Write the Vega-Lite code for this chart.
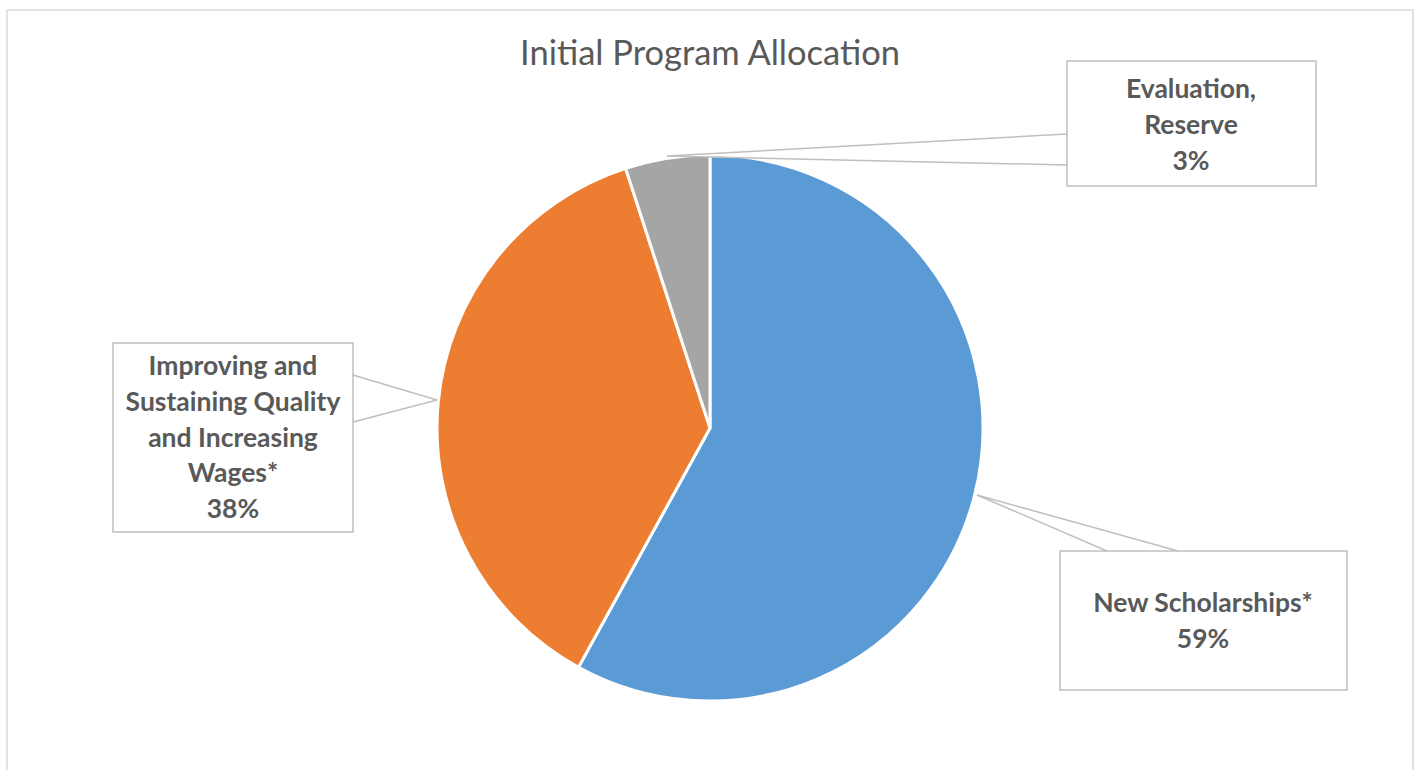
{
  "$schema": "https://vega.github.io/schema/vega-lite/v6.json",
  "autosize": {"type": "fit", "contains": "padding"},
  "width": 1418,
  "height": 770,
  "padding": 0,
  "background": "white",
  "config": {"view": {"stroke": null}, "axis": {"disable": true}},
  "data": {"values": [
    {"category": "New Scholarships*", "share": 58, "rank": 1, "label": "New Scholarships*\n59%"},
    {"category": "Improving and Sustaining Quality and Increasing Wages*", "share": 37, "rank": 2, "label": "Improving and\nSustaining Quality\nand Increasing\nWages*\n38%"},
    {"category": "Evaluation, Reserve", "share": 5, "rank": 3, "label": "Evaluation,\nReserve\n3%"}
  ]},
  "encoding": {
    "x": {"type": "quantitative", "scale": {"domain": [-260.07, 259.34], "nice": false, "zero": false}, "axis": null},
    "y": {"type": "quantitative", "scale": {"domain": [-125.27, 156.78], "nice": false, "zero": false}, "axis": null}
  },
  "layer": [
    {
      "data": {"values": [{"frame": "chart area"}]},
      "mark": {"type": "rect", "fill": null, "stroke": "#D9D9D9", "strokeWidth": 1.5, "clip": true},
      "encoding": {"x": {"datum": -257.51}, "x2": {"datum": 257.51}, "y": {"datum": 153.11}, "y2": {"datum": -140}}
    },
    {
      "data": {"values": [{"title": "Initial Program Allocation"}]},
      "mark": {"type": "text", "font": "Lato", "fontSize": 34.5, "color": "#595959", "align": "center", "baseline": "middle"},
      "encoding": {"x": {"datum": 0}, "y": {"datum": 136.5}, "text": {"field": "title", "type": "nominal"}}
    },
    {
      "mark": {"type": "arc", "outerRadius": 273, "stroke": "white", "strokeWidth": 3},
      "encoding": {
        "x": {"datum": 0},
        "y": {"datum": 0},
        "theta": {"field": "share", "type": "quantitative", "stack": true},
        "order": {"field": "rank", "type": "quantitative"},
        "color": {"field": "category", "type": "nominal", "legend": null,
          "scale": {"domain": ["New Scholarships*", "Improving and Sustaining Quality and Increasing Wages*", "Evaluation, Reserve"], "range": ["#5B9BD5", "#ED7D31", "#A5A5A5"]}}
      }
    },
    {"data": {"values": [{}]}, "mark": {"type": "rule", "stroke": "#BFBFBF", "strokeWidth": 1.5},
     "encoding": {"x": {"datum": -15.75}, "y": {"datum": 99.63}, "x2": {"datum": 130.77}, "y2": {"datum": 107.69}}},
    {"data": {"values": [{}]}, "mark": {"type": "rule", "stroke": "#BFBFBF", "strokeWidth": 1.5},
     "encoding": {"x": {"datum": -15.75}, "y": {"datum": 99.63}, "x2": {"datum": 130.77}, "y2": {"datum": 96.34}}},
    {"data": {"values": [{}]}, "mark": {"type": "rule", "stroke": "#BFBFBF", "strokeWidth": 1.5},
     "encoding": {"x": {"datum": -100}, "y": {"datum": 10.26}, "x2": {"datum": -130.77}, "y2": {"datum": 19.41}}},
    {"data": {"values": [{}]}, "mark": {"type": "rule", "stroke": "#BFBFBF", "strokeWidth": 1.5},
     "encoding": {"x": {"datum": -100}, "y": {"datum": 10.26}, "x2": {"datum": -130.77}, "y2": {"datum": 2.2}}},
    {"data": {"values": [{}]}, "mark": {"type": "rule", "stroke": "#BFBFBF", "strokeWidth": 1.5},
     "encoding": {"x": {"datum": 97.8}, "y": {"datum": -24.54}, "x2": {"datum": 145.42}, "y2": {"datum": -45.05}}},
    {"data": {"values": [{}]}, "mark": {"type": "rule", "stroke": "#BFBFBF", "strokeWidth": 1.5},
     "encoding": {"x": {"datum": 97.8}, "y": {"datum": -24.54}, "x2": {"datum": 171.43}, "y2": {"datum": -45.05}}},
    {"data": {"values": [{}]}, "mark": {"type": "rect", "fill": "white", "stroke": "#BFBFBF", "strokeWidth": 1.5},
     "encoding": {"x": {"datum": 130.77}, "x2": {"datum": 221.98}, "y": {"datum": 134.43}, "y2": {"datum": 88.64}}},
    {"data": {"values": [{}]}, "mark": {"type": "rect", "fill": "white", "stroke": "#BFBFBF", "strokeWidth": 1.5},
     "encoding": {"x": {"datum": -218.68}, "x2": {"datum": -130.77}, "y": {"datum": 31.14}, "y2": {"datum": -38.1}}},
    {"data": {"values": [{}]}, "mark": {"type": "rect", "fill": "white", "stroke": "#BFBFBF", "strokeWidth": 1.5},
     "encoding": {"x": {"datum": 128.21}, "x2": {"datum": 233.33}, "y": {"datum": -45.05}, "y2": {"datum": -95.97}}},
    {
      "transform": [{"filter": "datum.rank == 3"}],
      "mark": {"type": "text", "font": "Lato", "fontWeight": "bold", "fontSize": 26.5, "color": "#595959", "align": "center", "baseline": "middle", "lineBreak": "\n", "lineHeight": 35.8},
      "encoding": {"x": {"datum": 176.19}, "y": {"datum": 123.81}, "text": {"field": "label", "type": "nominal"}}
    },
    {
      "transform": [{"filter": "datum.rank == 2"}],
      "mark": {"type": "text", "font": "Lato", "fontWeight": "bold", "fontSize": 26.5, "color": "#595959", "align": "center", "baseline": "middle", "lineBreak": "\n", "lineHeight": 35.8},
      "encoding": {"x": {"datum": -174.73}, "y": {"datum": 22.34}, "text": {"field": "label", "type": "nominal"}}
    },
    {
      "transform": [{"filter": "datum.rank == 1"}],
      "mark": {"type": "text", "font": "Lato", "fontWeight": "bold", "fontSize": 26.5, "color": "#595959", "align": "center", "baseline": "middle", "lineBreak": "\n", "lineHeight": 35.8},
      "encoding": {"x": {"datum": 180.59}, "y": {"datum": -64.47}, "text": {"field": "label", "type": "nominal"}}
    }
  ]
}
